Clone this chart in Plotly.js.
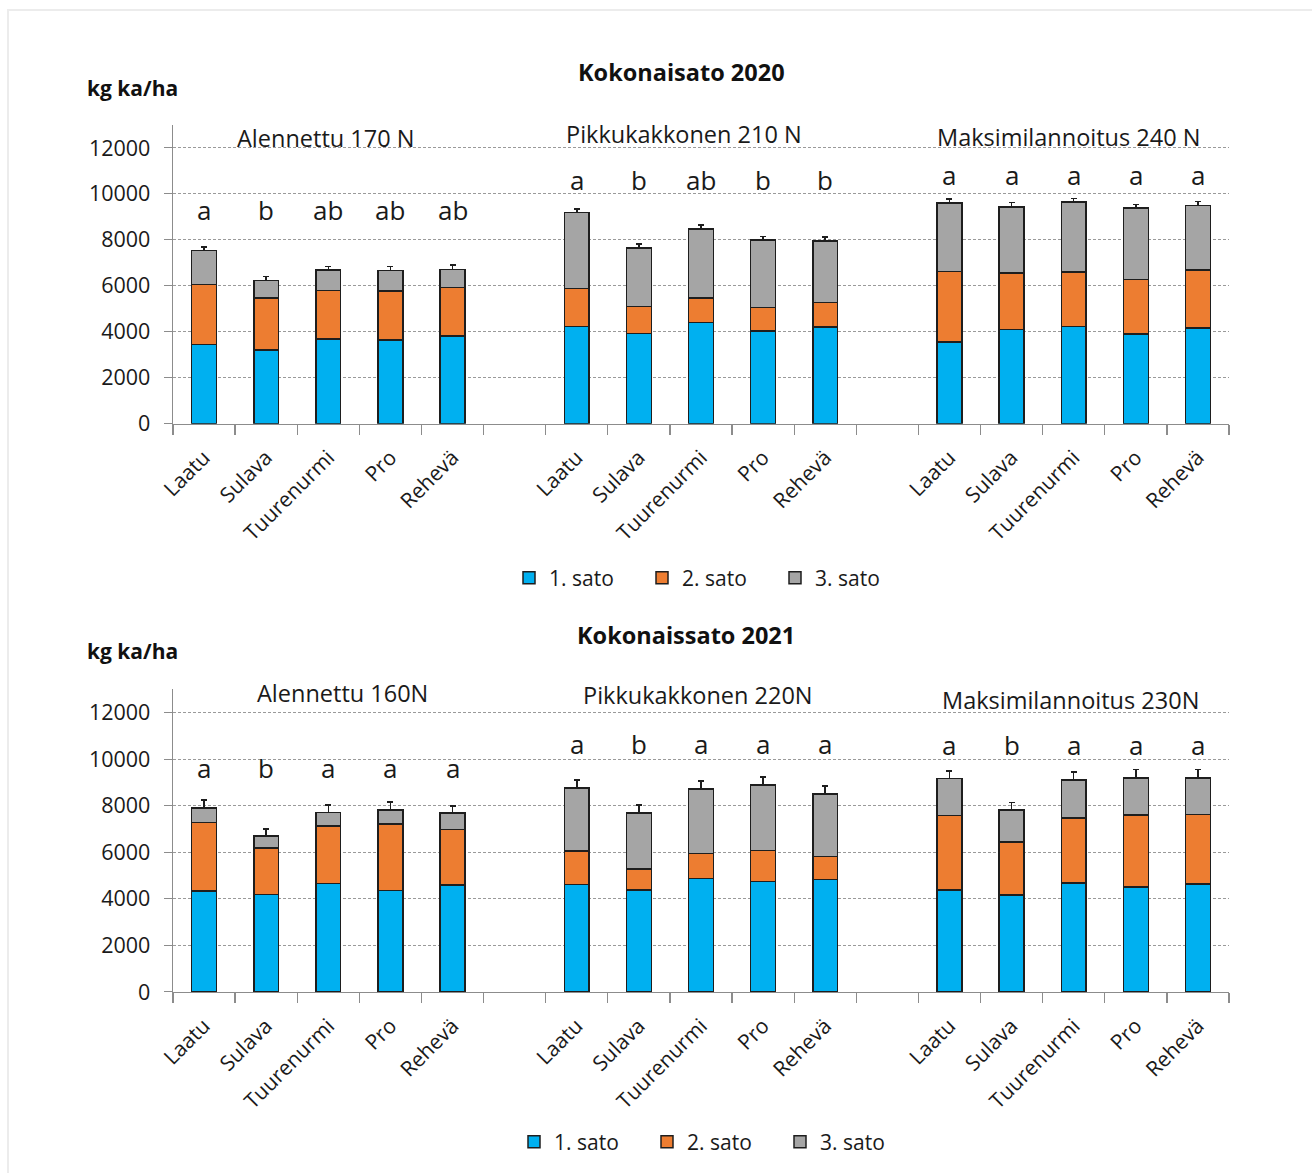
<!DOCTYPE html>
<html>
<head>
<meta charset="utf-8">
<script src="https://cdn.plot.ly/plotly-3.0.1.min.js"></script>
<style>
  html, body { margin: 0; padding: 0; background: #fff; }
  #wrap { position: relative; width: 1312px; height: 1173px; }
  #frame { position: absolute; left: 7px; top: 9px; right: 0; bottom: 0;
           border-left: 2px solid #ececec; border-top: 2px solid #ececec; pointer-events: none; }
  #chart { width: 1312px; height: 1173px; }
</style>
</head>
<body>
<div id="wrap">
  <div id="chart"></div>
  <div id="frame"></div>
</div>
<script>
// ---------- DATA ----------
const cultivars = ["Laatu", "Sulava", "Tuurenurmi", "Pro", "Rehevä"];
const seriesNames = ["1. sato", "2. sato", "3. sato"];

const groups2020 = ["Alennettu 170 N", "Pikkukakkonen 210 N", "Maksimilannoitus 240 N"];
const groups2021 = ["Alennettu 160N", "Pikkukakkonen 220N", "Maksimilannoitus 230N"];

// 2020 (kg ka/ha), per group: Alennettu, Pikkukakkonen, Maksimi
const sato1_2020 = [[3450, 3200, 3680, 3640, 3810], [4220, 3930, 4410, 4030, 4200], [3560, 4090, 4220, 3910, 4170]];
const sato2_2020 = [[2600, 2280, 2120, 2130, 2110], [1660, 1160, 1070, 1030, 1080], [3060, 2470, 2380, 2360, 2510]];
const sato3_2020 = [[1480, 750, 890, 890, 800], [3310, 2560, 2990, 2930, 2680], [2990, 2880, 3040, 3110, 2820]];
const err_2020   = [[160, 180, 160, 190, 190], [150, 170, 170, 160, 170], [160, 190, 160, 160, 170]];
const letters2020 = [["a", "b", "ab", "ab", "ab"], ["a", "b", "ab", "b", "b"], ["a", "a", "a", "a", "a"]];

// 2021
const sato1_2021 = [[4330, 4190, 4660, 4370, 4590], [4620, 4390, 4870, 4740, 4830], [4390, 4170, 4690, 4500, 4640]];
const sato2_2021 = [[2950, 1990, 2460, 2850, 2380], [1430, 890, 1070, 1330, 1000], [3200, 2270, 2790, 3110, 2980]];
const sato3_2021 = [[630, 520, 590, 600, 710], [2720, 2410, 2780, 2830, 2670], [1570, 1370, 1620, 1580, 1580]];
const err_2021   = [[340, 300, 330, 340, 310], [340, 340, 340, 340, 340], [340, 340, 340, 370, 360]];
const letters2021 = [["a", "b", "a", "a", "a"], ["a", "b", "a", "a", "a"], ["a", "b", "a", "a", "a"]];

const yTicks = [0, 2000, 4000, 6000, 8000, 10000, 12000];

// ---------- BUILD ----------
const colors = ["#00B0F0", "#ED7D31", "#A5A5A5"];
const FONT = "Open Sans, Noto Sans, sans-serif";
const nPer = cultivars.length;
const slot = nPer + 1; // one empty category between groups
const xPos = [], xLabels = [];
for (let g = 0; g < 3; g++) for (let i = 0; i < nPer; i++) { xPos.push(g * slot + i); xLabels.push(cultivars[i]); }
const nSlots = 3 * slot - 1;
const bounds = []; for (let k = 0; k <= nSlots; k++) bounds.push(k - 0.5);
const flat = a => a.reduce((r, v) => r.concat(v), []);

function makeTraces(s1, s2, s3, err, xa, ya, leg) {
  const vals = [s1, s2, s3];
  return vals.map((v, k) => {
    const t = {
      type: "bar", name: seriesNames[k], x: xPos, y: flat(v), xaxis: xa, yaxis: ya, legend: leg,
      width: 0.4,
      marker: { color: colors[k], line: { color: "#1e1e1e", width: 1.5 } },
      hoverinfo: "skip"
    };
    if (k === 2) {
      t.error_y = { type: "data", symmetric: false, array: flat(err), arrayminus: flat(err).map(() => 0),
                    color: "#1e1e1e", thickness: 1.5, width: 3 };
    }
    return t;
  });
}

const data = []
  .concat(makeTraces(sato1_2020, sato2_2020, sato3_2020, err_2020, "x", "y", "legend"))
  .concat(makeTraces(sato1_2021, sato2_2021, sato3_2021, err_2021, "x2", "y2", "legend2"));

// pixel helpers for layout positioning (plot area 173..1229 x, 125..993 y)
const L = 173, R = 1229, T = 125, B = 993;
const px = v => (v - L) / (R - L);
const py = v => (B - v) / (B - T);

function xAxis(anchor) {
  return {
    anchor: anchor, range: [-0.5, nSlots - 0.5], tickmode: "array", tickvals: xPos, ticktext: xLabels,
    ticks: "", tickangle: -45, showgrid: false, zeroline: false, ticklabelstandoff: 12,
    showline: true, linecolor: "#8c8c8c", linewidth: 1.3,
    tickfont: { family: FONT, size: 21, color: "#1a1a1a" },
    minor: { tickmode: "array", tickvals: bounds, ticks: "outside", ticklen: 10, tickcolor: "#8c8c8c", tickwidth: 1.3, showgrid: false },
    fixedrange: true
  };
}
function yAxis(anchor, domain) {
  return {
    anchor: anchor, domain: domain, range: [0, 13000], tickmode: "array", tickvals: yTicks, tickformat: "d",
    ticks: "outside", ticklen: 8, tickcolor: "#8c8c8c", tickwidth: 1,
    ticklabelstandoff: 9,
    showline: true, linecolor: "#8c8c8c", linewidth: 1.3,
    showgrid: true, gridcolor: "#9a9a9a", griddash: "3px,2px", gridwidth: 1,
    zeroline: false, tickfont: { family: FONT, size: 21.5, color: "#1a1a1a" },
    fixedrange: true
  };
}

const annotations = [];
function addTexts(groups, letters, xa, ya, letterY, titleY, titleShift) {
  groups.forEach((gname, g) => {
    annotations.push({ xref: xa, yref: ya, x: g * slot + (nPer - 1) / 2, y: titleY[g], xshift: titleShift[g],
      text: gname, showarrow: false, xanchor: "center", yanchor: "middle",
      font: { family: FONT, size: 23.5, color: "#1a1a1a" } });
    letters[g].forEach((lt, i) => {
      annotations.push({ xref: xa, yref: ya, x: g * slot + i, y: letterY[g], text: lt, showarrow: false,
        xanchor: "center", yanchor: "middle", font: { family: FONT, size: 26, color: "#1a1a1a" } });
    });
  });
}
addTexts(groups2020, letters2020, "x", "y", [9300, 10620, 10830], [12430, 12600, 12480], [-3, -17, -5]);
addTexts(groups2021, letters2021, "x2", "y2", [9600, 10640, 10630], [12860, 12770, 12560], [14, -3, -3]);

// main titles and units
annotations.push({ xref: "paper", yref: "paper", x: px(681), y: py(72), text: "<b>Kokonaisato 2020</b>", showarrow: false,
  xanchor: "center", yanchor: "middle", font: { family: FONT, size: 23.5, color: "#111" } });
annotations.push({ xref: "paper", yref: "paper", x: px(686), y: py(636), text: "<b>Kokonaissato 2021</b>", showarrow: false,
  xanchor: "center", yanchor: "middle", font: { family: FONT, size: 23.5, color: "#111" } });
annotations.push({ xref: "paper", yref: "paper", x: px(85), y: py(88), text: "<b>kg ka/ha</b>", showarrow: false,
  xanchor: "left", yanchor: "middle", font: { family: FONT, size: 21, color: "#111" } });
annotations.push({ xref: "paper", yref: "paper", x: px(85), y: py(652), text: "<b>kg ka/ha</b>", showarrow: false,
  xanchor: "left", yanchor: "middle", font: { family: FONT, size: 21, color: "#111" } });

const legendCommon = {
  orientation: "h", xanchor: "left", yanchor: "middle", traceorder: "normal",
  font: { family: FONT, size: 21, color: "#1a1a1a" }, bgcolor: "rgba(0,0,0,0)",
  entrywidth: 88, entrywidthmode: "pixels", itemwidth: 30
};

const layout = {
  width: 1312, height: 1173,
  margin: { l: L, r: 1312 - R, t: T, b: 1173 - B },
  paper_bgcolor: "#ffffff", plot_bgcolor: "#ffffff",
  barmode: "stack",
  showlegend: true,
  xaxis: xAxis("y"),
  yaxis: yAxis("x", [py(424), 1]),
  xaxis2: xAxis("y2"),
  yaxis2: yAxis("x2", [0, py(690)]),
  legend: Object.assign({}, legendCommon, { x: px(509), y: py(578) }),
  legend2: Object.assign({}, legendCommon, { x: px(514), y: py(1142) }),
  annotations: annotations
};

Plotly.newPlot("chart", data, layout, { displayModeBar: false, staticPlot: true });
</script>
</body>
</html>
